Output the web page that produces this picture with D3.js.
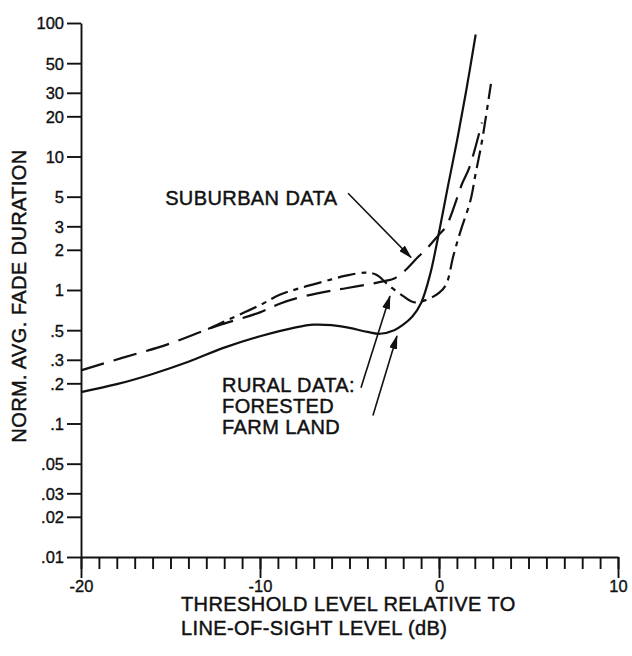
<!DOCTYPE html>
<html>
<head>
<meta charset="utf-8">
<script src="https://cdn.jsdelivr.net/npm/d3@7"></script>
<style>
  body { margin: 0; background: #fff; }
  text { font-family: "Liberation Sans", Arial, Helvetica, sans-serif; fill: #111; }
</style>
</head>
<body>
<div id="chart"></div>
<script>
// values
let yTicks = [100, 50, 30, 20, 10, 5, 3, 2, 1, .5, .3, .2, .1, .05, .03, .02, .01]
let yTickLabels = ["100", "50", "30", "20", "10", "5", "3", "2", "1", ".5", ".3", ".2", ".1", ".05", ".03", ".02", ".01"]
let xMajor = [-20, -10, 0, 10]
let xMajorLabels = ["-20", "-10", "0", "10"]

// rural, farm land (solid)
let farmX = [-20, -18, -16, -14, -12, -10, -8, -7, -6, -5, -4, -3.3, -2.5, -2, -1.5, -1, -0.5, 0, 0.5, 1, 1.5, 2.05]
let farmY = [0.172, 0.197, 0.235, 0.29, 0.37, 0.45, 0.525, 0.55, 0.545, 0.52, 0.485, 0.47, 0.5, 0.55, 0.63, 0.8, 1.3, 2.7, 6, 13, 30, 82]

// suburban (long dash)
let suburbX = [-20, -17.7, -15.2, -12.9, -12, -10, -8.9, -7.8, -6, -5.2, -4, -3, -2.5, -2, -1.2, -0.6, 0, 0.4, 1.3, 1.7, 2.4]
let suburbY = [0.25, 0.31, 0.39, 0.51, 0.56, 0.68, 0.79, 0.88, 0.99, 1.03, 1.1, 1.17, 1.22, 1.36, 1.75, 2.1, 2.6, 3.0, 6.3, 8.3, 18]

// rural, forested (dash-dot), branches off the suburban curve
let forestX = [-12.9, -12, -10, -8.9, -7.8, -6, -5.2, -4.1, -3.5, -2.8, -2, -1.4, -0.75, 0, 0.4, 0.8, 1.2, 1.76, 2.05, 2.4, 2.9]
let forestY = [0.51, 0.58, 0.77, 0.92, 1.03, 1.2, 1.28, 1.35, 1.3, 1.08, 0.9, 0.81, 0.84, 0.95, 1.1, 1.8, 2.75, 4.7, 7.5, 13, 35]

let margin = { top: 23, left: 81 }
let width = 537, height = 534

let svg = d3.select("#chart").append("svg")
    .attr("width", 632)
    .attr("height", 656)

let defs = svg.append("defs")
defs.append("marker")
    .attr("id", "arrow")
    .attr("markerUnits", "userSpaceOnUse")
    .attr("markerWidth", 14)
    .attr("markerHeight", 8)
    .attr("refX", 13)
    .attr("refY", 4)
    .attr("orient", "auto")
    .append("path")
    .attr("d", "M0,0 L14,4 L0,8 Z")
    .attr("fill", "#111")

let g = svg.append("g")
    .attr("transform", "translate(" + margin.left + "," + margin.top + ")")

let xScale = d3.scaleLinear().domain([-20, 10]).range([0, width])
let yScale = d3.scaleLog().domain([0.01, 100]).range([height, 0])

let boldish = t => t.style("stroke", "#111").style("stroke-width", "0.35px")

// y axis
let yAxis = g.append("g")
    .call(d3.axisLeft(yScale)
        .tickValues(yTicks)
        .tickFormat((d, i) => yTickLabels[i])
        .tickSize(14)
        .tickPadding(3)
        .tickSizeOuter(0))
yAxis.selectAll("text").style("font-size", "16.5px").attr("dy", "0.36em").call(boldish)
yAxis.selectAll("line, path").attr("stroke", "#111").attr("stroke-width", 1.9)

// x axis, minor ticks every dB
let xMinorAxis = g.append("g")
    .attr("transform", "translate(0," + height + ")")
    .call(d3.axisBottom(xScale)
        .tickValues(d3.range(-20, 11))
        .tickFormat("")
        .tickSize(12)
        .tickSizeOuter(0))
xMinorAxis.selectAll("line, path").attr("stroke", "#111").attr("stroke-width", 1.9)

let xMajorAxis = g.append("g")
    .attr("transform", "translate(0," + height + ")")
    .call(d3.axisBottom(xScale)
        .tickValues(xMajor)
        .tickFormat((d, i) => xMajorLabels[i])
        .tickSize(21)
        .tickPadding(2))
xMajorAxis.select(".domain").remove()
xMajorAxis.selectAll("line").attr("stroke", "#111").attr("stroke-width", 1.9)
xMajorAxis.selectAll("text").style("font-size", "16.5px").call(boldish)

// curves
let line = d3.line()
    .x(d => xScale(d[0]))
    .y(d => yScale(d[1]))
    .curve(d3.curveCatmullRom.alpha(0.5))

let curves = [
    { x: farmX, y: farmY, dash: null },
    { x: suburbX, y: suburbY, dash: "24,10" },
    { x: forestX, y: forestY, dash: "18,6,5,6" }
]

curves.forEach(c => {
    g.append("path")
        .datum(d3.zip(c.x, c.y))
        .attr("d", line)
        .attr("fill", "none")
        .attr("stroke", "#111")
        .attr("stroke-width", 2.2)
        .attr("stroke-dasharray", c.dash)
})

// annotations (in data units)
let arrows = [
    { from: [-5.08, 5.3], to: [-1.56, 1.75] },
    { from: [-4.36, 0.185], to: [-2.74, 0.90] },
    { from: [-3.69, 0.115], to: [-2.35, 0.452] }
]

arrows.forEach(a => {
    g.append("line")
        .attr("x1", xScale(a.from[0]))
        .attr("y1", yScale(a.from[1]))
        .attr("x2", xScale(a.to[0]))
        .attr("y2", yScale(a.to[1]))
        .attr("stroke", "#111")
        .attr("stroke-width", 1.6)
        .attr("marker-end", "url(#arrow)")
})

let noteStyle = t => t.style("font-size", "20px")
    .style("letter-spacing", "0.4px")
    .style("stroke", "#111")
    .style("stroke-width", "0.45px")

g.append("text")
    .attr("x", xScale(-15.3))
    .attr("y", yScale(4.3))
    .text("SUBURBAN DATA")
    .call(noteStyle)

let rural = g.append("text")
    .attr("x", xScale(-12.12))
    .attr("y", yScale(0.172))
    .call(noteStyle)

let ruralLines = ["RURAL DATA:", "FORESTED", "FARM LAND"]
rural.selectAll("tspan")
    .data(ruralLines)
    .enter()
    .append("tspan")
    .attr("x", xScale(-12.12))
    .attr("dy", (d, i) => i == 0 ? 0 : "1.05em")
    .text(d => d)

// axis titles
let xTitle = svg.append("text")
    .attr("x", 181)
    .attr("y", 611)
    .call(noteStyle)
xTitle.append("tspan").attr("x", 181).text("THRESHOLD LEVEL RELATIVE TO")
xTitle.append("tspan").attr("x", 181).attr("dy", "1.2em").text("LINE-OF-SIGHT LEVEL (dB)")

svg.append("text")
    .attr("transform", "translate(26,296) rotate(-90)")
    .attr("text-anchor", "middle")
    .text("NORM. AVG. FADE DURATION")
    .call(noteStyle)
</script>
</body>
</html>
